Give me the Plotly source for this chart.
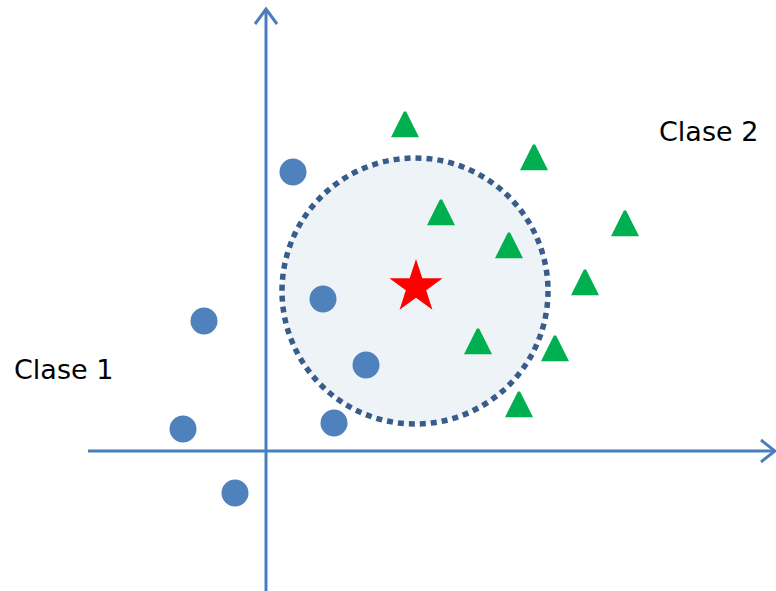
import plotly.graph_objects as go

# Clase 1 (blue circles), pixel-like coordinates
c1_x = [293, 204, 323, 366, 183, 334, 235]
c1_y = [172, 321, 299, 365, 429, 423, 493]

# Clase 2 (green triangles), centre of each triangle
c2_x = [405, 534, 441, 625, 509, 585, 478, 555, 519]
c2_y = [125, 158, 213, 224, 246, 283, 342, 349, 405]

# new point (red star)
new_x = [416]
new_y = [287]

# neighbourhood circle: center and radius
cx, cy, r = 415, 291, 133

W, H = 776, 591
ox, oy = 266, 451  # axis origin

fig = go.Figure()

# axes drawn as arrows
axis_col = "#4A7EBB"
fig.add_trace(go.Scatter(x=[88, 775, None, 761, 775, 761],
                         y=[oy, oy, None, oy - 11, oy, oy + 11],
                         mode="lines", line=dict(color=axis_col, width=3),
                         hoverinfo="skip"))
fig.add_trace(go.Scatter(x=[ox, ox, None, ox - 11, ox, ox + 11],
                         y=[591, 9, None, 24, 9, 24],
                         mode="lines", line=dict(color=axis_col, width=3),
                         hoverinfo="skip"))

fig.add_shape(type="circle", x0=cx - r, x1=cx + r, y0=cy - r, y1=cy + r,
              fillcolor="#EEF3F8", line=dict(color="#385D8A", width=5.5, dash="6px,5px"),
              layer="below")

fig.add_trace(go.Scatter(x=c1_x, y=c1_y, mode="markers",
                         marker=dict(symbol="circle", size=27, color="#4F81BD",
                                     line=dict(width=0))))

# arrow-up marker has its tip at the point, so lift it by half its height
tri = 24
fig.add_trace(go.Scatter(x=c2_x, y=[v - tri / 2 - 1 for v in c2_y], mode="markers",
                         marker=dict(symbol="arrow-up", size=tri, color="#00B050",
                                     line=dict(width=2.5, color="#00B050"))))
fig.add_trace(go.Scatter(x=new_x, y=new_y, mode="markers",
                         marker=dict(symbol="star", size=40, color="#FF0000",
                                     line=dict(width=0))))

fig.add_annotation(x=12, y=369, text="Clase 1", showarrow=False, xanchor="left",
                   font=dict(size=27, color="black", family="DejaVu Sans"))
fig.add_annotation(x=657, y=131, text="Clase 2", showarrow=False, xanchor="left",
                   font=dict(size=27, color="black", family="DejaVu Sans"))

fig.update_xaxes(range=[0, W], visible=False)
fig.update_yaxes(range=[H, 0], visible=False)
fig.update_layout(width=W, height=H, margin=dict(l=0, r=0, t=0, b=0),
                  plot_bgcolor="white", paper_bgcolor="white", showlegend=False)

fig.write_html("out.html", config={"displayModeBar": False},
               post_script="document.body.style.margin='0';document.body.style.overflow='hidden';")
